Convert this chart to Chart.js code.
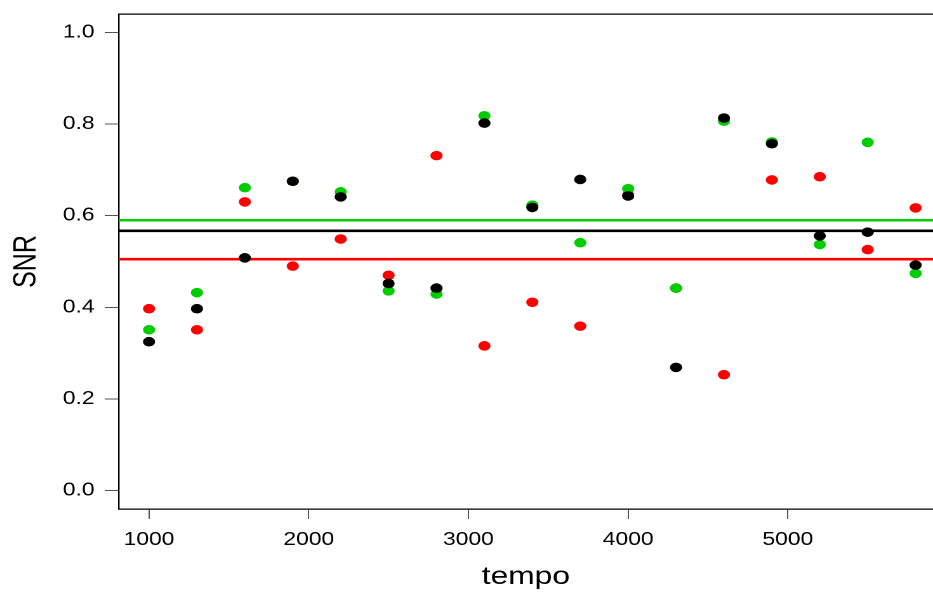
<!DOCTYPE html>
<html>
<head>
<meta charset="utf-8">
<script src="https://cdn.jsdelivr.net/npm/chart.js@4"></script>
<style>
  html, body { margin: 0; padding: 0; background: #fff; overflow: hidden; }
  #wrap { width: 933px; height: 592px; overflow: hidden; }
  /* the original plot is stretched sideways, so draw narrow and scale up */
  #snr { transform: scaleX(1.2694); transform-origin: 0 0; }
</style>
</head>
<body>
<div id="wrap"><canvas id="snr" width="735" height="592"></canvas></div>
<script>
const tempo = [1000, 1300, 1600, 1900, 2200, 2500, 2800, 3100, 3400, 3700, 4000, 4300, 4600, 4900, 5200, 5500, 5800];
const snrRed   = [0.397, 0.351, 0.630, 0.490, 0.549, 0.470, 0.731, 0.316, 0.411, 0.359, 0.645, 0.442, 0.253, 0.678, 0.685, 0.526, 0.617];
const snrGreen = [0.351, 0.432, 0.661, 0.675, 0.652, 0.436, 0.429, 0.818, 0.623, 0.541, 0.659, 0.442, 0.806, 0.761, 0.537, 0.760, 0.474];
const snrBlack = [0.325, 0.397, 0.508, 0.675, 0.641, 0.452, 0.442, 0.802, 0.618, 0.679, 0.643, 0.269, 0.813, 0.757, 0.556, 0.564, 0.492];
const meanRed = 0.505;
const meanGreen = 0.590;
const meanBlack = 0.567;
const xTicks = [1000, 2000, 3000, 4000, 5000];
const yTicks = [0.0, 0.2, 0.4, 0.6, 0.8, 1.0];

const X_MIN = 810, X_MAX = 5909;
const Y_MIN = -0.04, Y_MAX = 1.04;

const RED = "#ff0000", GREEN = "#00cd00", BLACK = "#000000";

function pts(ys) {
    return tempo.map((t, i) => ({ x: t, y: ys[i] }));
}
function hline(v) {
    return [{ x: X_MIN, y: v }, { x: X_MAX, y: v }];
}

function dots(label, ys, color, order) {
    return {
        type: "scatter",
        label: label,
        data: pts(ys),
        backgroundColor: color,
        borderWidth: 0,
        pointRadius: 4.8,
        order: order
    };
}
function meanLine(label, v, color) {
    return {
        type: "line",
        label: label,
        data: hline(v),
        borderColor: color,
        borderWidth: 2.6,
        pointRadius: 0,
        order: 10
    };
}

const FONT = "'Liberation Sans', Arial, sans-serif";
const tickFont = { family: FONT, size: 18 };
// small line height so the top label does not push the plot box down
const yTickFont = { family: FONT, size: 18, lineHeight: 0.6 };
const titleFont = { family: FONT, size: 25 };

new Chart(document.getElementById("snr"), {
    data: {
        datasets: [
            meanLine("mean red", meanRed, RED),
            meanLine("mean black", meanBlack, BLACK),
            meanLine("mean green", meanGreen, GREEN),
            dots("red", snrRed, RED, 3),
            dots("green", snrGreen, GREEN, 2),
            dots("black", snrBlack, BLACK, 1)
        ]
    },
    options: {
        responsive: false,
        animation: false,
        devicePixelRatio: 2,
        layout: { autoPadding: false, padding: 0 },
        plugins: { legend: { display: false }, tooltip: { enabled: false } },
        scales: {
            x: {
                type: "linear",
                position: "bottom",
                min: X_MIN,
                max: X_MAX,
                afterBuildTicks: (s) => { s.ticks = xTicks.map(v => ({ value: v })); },
                afterFit: (s) => { s.height = 83; },
                ticks: { font: tickFont, color: "#000", padding: 10, maxRotation: 0, autoSkip: false, callback: (v) => String(v) },
                grid: { drawOnChartArea: false, tickLength: 10, tickColor: "#555", tickWidth: 1 },
                border: { color: "#000", width: 1.2 },
                title: { display: true, text: "tempo", font: titleFont, color: "#000", padding: { top: 0, bottom: 0 } }
            },
            xTop: {
                type: "linear",
                position: "top",
                min: X_MIN,
                max: X_MAX,
                afterFit: (s) => { s.height = 14; },
                ticks: { display: false },
                grid: { drawOnChartArea: false, drawTicks: false },
                border: { color: "#000", width: 1.2 }
            },
            y: {
                type: "linear",
                min: Y_MIN,
                max: Y_MAX,
                afterBuildTicks: (s) => { s.ticks = yTicks.map(v => ({ value: v })); },
                afterFit: (s) => { s.width = 93.5; },
                ticks: { font: yTickFont, color: "#000", padding: 8, callback: (v) => v.toFixed(1) },
                grid: { drawOnChartArea: false, tickLength: 11, tickColor: "#555", tickWidth: 1 },
                border: { color: "#000", width: 1.2 },
                title: { display: true, text: "SNR", font: titleFont, color: "#000", padding: { top: 6, bottom: 0 } }
            }
        }
    }
});
</script>
</body>
</html>
